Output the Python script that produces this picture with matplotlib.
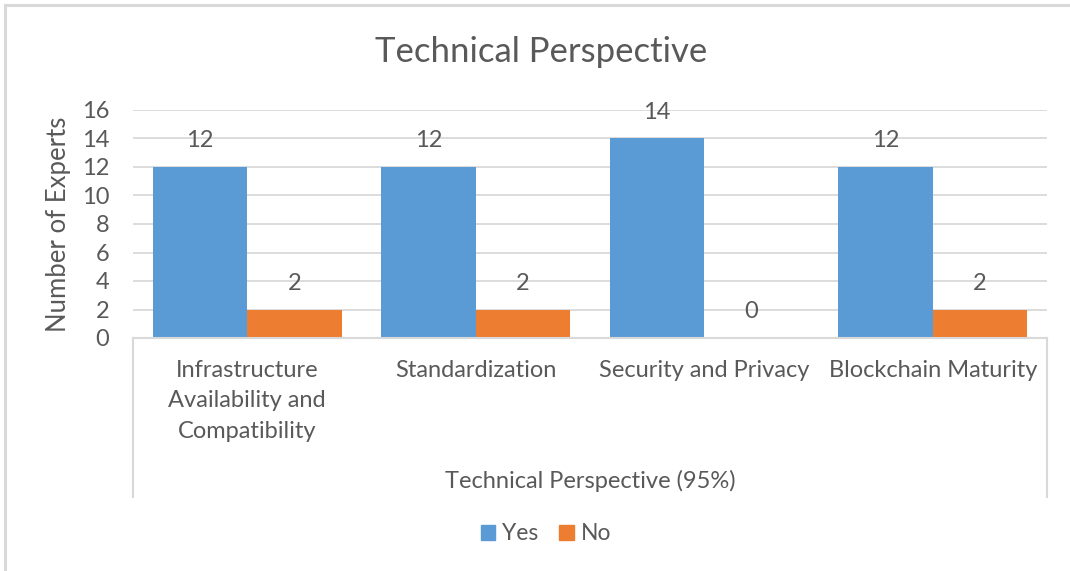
import matplotlib
matplotlib.use("Agg")
import matplotlib.pyplot as plt
from matplotlib.lines import Line2D
from matplotlib.patches import Patch
import numpy as np

plt.rcParams["font.family"] = ["Lato", "DejaVu Sans"]

categories = ["Infrastructure\nAvailability and\nCompatibility", "Standardization",
              "Security and Privacy", "Blockchain Maturity"]
group_label = "Technical Perspective (95%)"
series_names = ["Yes", "No"]
yes_values = [12, 12, 14, 12]
no_values = [2, 2, 0, 2]
y_ticks = [0, 2, 4, 6, 8, 10, 12, 14, 16]
title = "Technical Perspective"
y_label = "Number of Experts"

BLUE = "#5B9BD5"
ORANGE = "#ED7D31"
TEXT = "#595959"
GRID = "#D9D9D9"

W, H = 1070, 571
fig = plt.figure(figsize=(W / 100, H / 100), dpi=100)

def fx(px):
    return px / W

def fy(py):
    return 1 - py / H

# outer chart frame
fig.add_artist(Line2D([fx(5), fx(1070)], [fy(5), fy(5)], color="#D9D9D9", lw=2.2))
fig.add_artist(Line2D([fx(5), fx(5)], [fy(5), fy(571)], color="#D9D9D9", lw=2.2))

left, right, top, bottom = 133, 1047, 110, 338
ax = fig.add_axes([fx(left), fy(bottom), fx(right - left), fy(top) - fy(bottom)])

x = np.arange(len(categories))
bw = 0.414
b1 = ax.bar(x - bw / 2, yes_values, bw, color=BLUE, label=series_names[0], zorder=3)
b2 = ax.bar(x + bw / 2, no_values, bw, color=ORANGE, label=series_names[1], zorder=3)

for bars, vals in ((b1, yes_values), (b2, no_values)):
    for rect, v in zip(bars, vals):
        ax.annotate(f"{v}", (rect.get_x() + rect.get_width() / 2, v),
                    xytext=(0, 19), textcoords="offset points",
                    ha="center", va="center", fontsize=17, color=TEXT)

ax.set_xlim(-0.5, len(categories) - 0.5)
ax.set_ylim(0, 16)
ax.set_yticks(y_ticks)
ax.tick_params(axis="y", length=0, pad=17, labelsize=17, labelcolor=TEXT)
ax.set_xticks([])
ax.grid(axis="y", color=GRID, lw=1.3, zorder=0)
for s in ("top", "right", "left"):
    ax.spines[s].set_visible(False)
ax.spines["bottom"].set_color(GRID)
ax.spines["bottom"].set_linewidth(1.5)
ax.spines["bottom"].set_zorder(4)

# multi-level category axis
depth = (497 - bottom) / (bottom - top)
for xa in (0, 1):
    ax.add_line(Line2D([xa, xa], [0, -depth], transform=ax.transAxes,
                       color=GRID, lw=1.5, clip_on=False))
trans = ax.get_xaxis_transform()
for xi, lab in zip(x, categories):
    ax.text(xi, -(360 - bottom) / (bottom - top), lab, transform=trans,
            ha="center", va="top", fontsize=17, color=TEXT, linespacing=1.55)
ax.text(0.5, -(481 - bottom) / (bottom - top), group_label, transform=ax.transAxes,
        ha="center", va="center", fontsize=17, color=TEXT)

ax.set_ylabel(y_label, fontsize=18.5, color=TEXT)
ax.yaxis.set_label_coords(-(133 - 71) / (right - left), 0.5)

fig.text(fx(541), fy(52), title, ha="center", va="center", fontsize=25, color=TEXT)

handles = [Patch(color=BLUE), Patch(color=ORANGE)]
fig.legend(handles, series_names, loc="center", bbox_to_anchor=(fx(546), fy(534)),
           ncol=2, frameon=False, fontsize=16.5, labelcolor=TEXT,
           handlelength=0.65, handleheight=0.65, handletextpad=0.3, columnspacing=0.9)

fig.savefig("out.png", dpi=100)
